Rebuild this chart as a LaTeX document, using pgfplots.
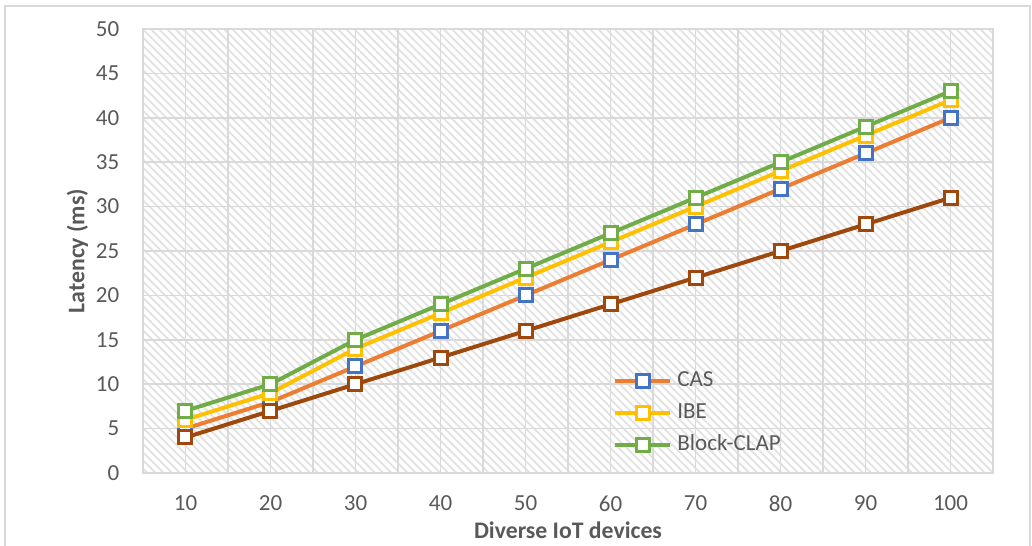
\documentclass[border=0pt]{standalone}
\usepackage{pgfplots}
\pgfplotsset{compat=1.18}
\usepackage{fontspec}
\setmainfont{Carlito}
\usetikzlibrary{patterns.meta}

\definecolor{casline}{HTML}{ED7D31}
\definecolor{casmark}{HTML}{4472C4}
\definecolor{ibec}{HTML}{FFC000}
\definecolor{clapc}{HTML}{70AD47}
\definecolor{basec}{HTML}{9E480E}
\definecolor{gridc}{HTML}{D9D9D9}
\definecolor{hatchc}{HTML}{E2E2E2}
\definecolor{textc}{HTML}{595959}

\begin{document}
\begin{tikzpicture}
\useasboundingbox (-57.2pt,-28.8pt) rectangle (355.6pt,189.2pt);
\draw[gridc, line width=0.6pt] (-55.2pt,-40pt) rectangle (354.8pt,186.8pt);
\begin{axis}[
  at={(0pt,0pt)}, anchor=south west,
  scale only axis, width=340pt, height=177.6pt,
  xmin=5, xmax=105, ymin=0, ymax=50,
  xtick={10,20,...,100}, ytick={0,5,...,50},
  minor xtick={15,25,...,95},
  major tick length=0pt, minor tick length=0pt,
  xmajorgrids, xminorgrids, ymajorgrids,
  major grid style={gridc, line width=0.6pt},
  minor grid style={gridc, line width=0.6pt},
  axis line style={gridc, line width=0.6pt},
  axis background/.style={pattern={Lines[angle=-45,distance=2.3pt,line width=0.75pt]}, pattern color=hatchc},
  font=\fontsize{9.2pt}{11pt}\selectfont,
  tick label style={text=textc},
  /pgf/number format/assume math mode=true,
  xticklabel shift=5.5pt, yticklabel shift=6pt,
  xlabel={\bfseries Diverse IoT devices},
  ylabel={\bfseries Latency (ms)},
  label style={text=textc, font=\fontsize{9.5pt}{11pt}\selectfont},
  xlabel style={at={(axis description cs:0.5,-0.128)}, anchor=center},
  ylabel style={at={(axis description cs:-0.077,0.5)}, anchor=center},
  legend style={at={(axis cs:59.4,12.6)}, anchor=north west, draw=none, fill=none,
    text=textc, row sep=1.2pt, font=\fontsize{9.2pt}{11pt}\selectfont,
    nodes={inner xsep=2pt}},
  legend cell align=left,
  legend image code/.code={
    \draw[#1, mark=none] (0pt,0pt) -- (22pt,0pt);
    \draw[#1] plot coordinates {(11pt,0pt)};
  },
  every axis plot/.append style={line width=1.6pt, mark=square*, mark size=2.6pt},
]
\addplot[casline, mark options={draw=casmark, fill=white, line width=1.2pt}]
  coordinates {(10,5) (20,8) (30,12) (40,16) (50,20) (60,24) (70,28) (80,32) (90,36) (100,40)};
\addlegendentry{CAS}
\addplot[ibec, mark options={draw=ibec, fill=white, line width=1.2pt}]
  coordinates {(10,6) (20,9) (30,14) (40,18) (50,22) (60,26) (70,30) (80,34) (90,38) (100,42)};
\addlegendentry{IBE}
\addplot[clapc, mark options={draw=clapc, fill=white, line width=1.2pt}]
  coordinates {(10,7) (20,10) (30,15) (40,19) (50,23) (60,27) (70,31) (80,35) (90,39) (100,43)};
\addlegendentry{Block-CLAP}
\addplot[basec, mark options={draw=basec, fill=white, line width=1.2pt}, forget plot]
  coordinates {(10,4) (20,7) (30,10) (40,13) (50,16) (60,19) (70,22) (80,25) (90,28) (100,31)};
\end{axis}
\end{tikzpicture}
\end{document}
